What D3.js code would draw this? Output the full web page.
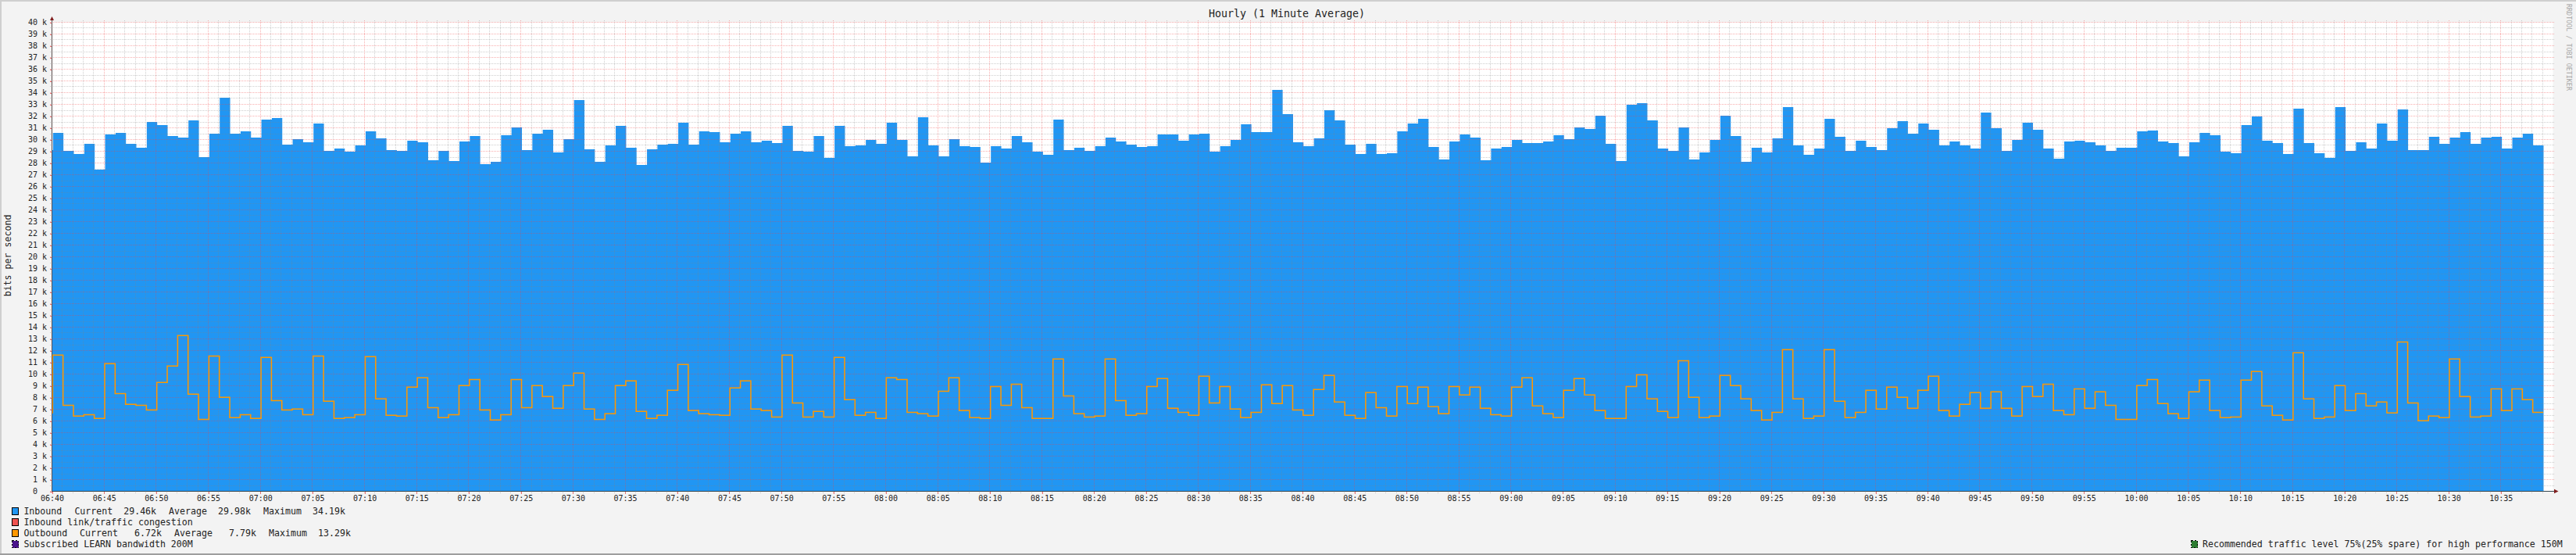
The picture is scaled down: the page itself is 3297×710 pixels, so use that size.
<!DOCTYPE html>
<html><head><meta charset="utf-8">
<script src="https://cdn.jsdelivr.net/npm/d3@7/dist/d3.min.js"></script>
<style>
html,body{margin:0;padding:0;background:#f3f3f3;overflow:hidden}
svg{display:block}
text{font-family:"DejaVu Sans Mono",monospace;fill:#222;white-space:pre}
</style></head><body>
<svg id="c" width="3297" height="710"></svg>
<script>
const chartTitle = "Hourly (1 Minute Average)";
const yTitle = "bits per second";
const watermark = "RRDTOOL / TOBI OETIKER";
const inbound = [29.1,
30.57,29.03,28.77,29.63,27.43,30.43,30.57,29.63,29.3,31.5,31.23,30.3,30.17,31.63,28.5,30.5,33.57,30.5,30.7,30.17,
31.7,31.83,29.57,30.03,29.77,31.37,29.03,29.23,28.97,29.5,30.7,30.1,29.1,29.03,29.9,29.77,28.23,29.03,28.17,29.83,
30.3,27.9,28.1,30.37,31.03,29.1,30.5,30.83,28.9,30.03,33.37,29.17,28.1,29.5,31.17,29.3,27.83,29.17,29.57,29.63,
31.43,29.57,30.7,30.63,29.77,30.5,30.7,29.77,29.9,29.7,31.17,29.03,28.97,30.3,28.43,31.17,29.43,29.5,29.97,29.63,
31.43,29.97,28.57,31.9,29.5,28.57,30.03,29.43,29.37,28.03,29.43,29.23,30.3,29.77,28.97,28.7,31.7,29.1,29.3,29.03,
29.43,30.17,29.83,29.57,29.37,29.43,30.43,30.43,29.9,30.43,30.5,28.97,29.43,29.97,31.3,30.63,30.63,34.23,32.17,29.77,
29.43,30.1,32.5,31.63,29.57,28.77,29.63,28.77,28.83,30.7,31.37,31.77,29.37,28.3,29.83,30.43,30.17,28.23,29.23,29.37,
29.97,29.7,29.7,29.83,30.37,30.03,31.03,30.9,32.03,29.63,28.17,32.97,33.1,31.63,29.23,29.03,31.03,28.3,28.9,29.97,
32.03,30.3,28.1,29.3,28.9,30.1,32.77,29.5,28.7,29.23,31.77,30.23,29.03,29.9,29.37,29.1,30.97,31.57,30.5,31.37,
30.83,29.5,29.83,29.5,29.23,32.3,30.97,29.03,29.97,31.43,30.83,29.23,28.37,29.83,29.9,29.77,29.5,29.03,29.3,29.3,
30.7,30.77,29.83,29.7,28.57,29.77,30.57,30.37,28.97,28.83,31.23,31.97,29.9,29.7,28.77,32.63,29.7,28.83,28.43,32.77,
29.03,29.77,29.23,31.37,29.9,32.57,29.1,29.1,30.23,29.63,30.17,30.63,29.63,30.17,30.23,29.23,30.17,30.5,29.5];
const outbound = [6.68,
11.61,7.34,6.41,6.54,6.21,10.88,8.34,7.41,7.34,6.94,9.28,10.68,13.28,8.28,6.14,11.54,8.01,6.28,6.54,6.21,
11.41,7.74,6.94,7.01,6.54,11.54,7.68,6.21,6.28,6.54,11.48,7.88,6.48,6.41,8.88,9.68,7.14,6.28,6.54,9.01,
9.54,6.94,6.08,6.54,9.54,7.14,9.01,8.08,7.08,9.01,10.08,7.01,6.14,6.61,9.01,9.41,6.81,6.21,6.48,8.61,
10.81,6.88,6.61,6.54,6.48,8.81,9.41,7.01,6.88,6.34,11.61,7.54,6.34,6.81,6.34,11.41,7.81,6.48,6.74,6.21,
9.68,9.54,6.74,6.61,6.41,8.54,9.68,6.88,6.28,6.21,8.94,7.34,9.14,7.14,6.21,6.21,11.28,8.14,6.61,6.34,
6.41,11.28,7.74,6.48,6.61,8.94,9.61,7.08,6.74,6.48,9.81,7.54,8.94,7.01,6.28,6.74,9.08,7.48,9.01,6.94,
6.48,8.68,9.88,7.61,6.48,6.21,8.41,7.14,6.41,8.94,7.48,8.88,7.21,6.61,8.94,8.21,8.88,7.08,6.54,6.41,
8.88,9.68,7.28,6.61,6.28,8.61,9.61,8.21,6.88,6.21,6.21,8.94,9.94,7.88,6.81,6.28,11.14,8.01,6.28,6.41,
9.88,9.01,7.88,6.88,6.08,6.74,12.08,7.88,6.21,6.41,12.08,7.68,6.28,6.74,8.61,7.01,8.88,8.01,7.08,8.61,
9.81,6.88,6.41,7.41,8.41,7.08,8.48,7.08,6.41,8.94,8.08,9.14,6.88,6.54,8.74,7.08,8.48,7.34,6.14,6.14,
9.01,9.54,7.48,6.61,6.21,8.48,9.48,6.88,6.28,6.34,9.48,10.21,7.28,6.48,6.08,11.81,7.88,6.21,6.34,9.01,
6.88,8.34,7.28,7.61,6.68,12.74,7.54,6.01,6.41,6.28,11.28,8.08,6.34,6.41,8.74,6.88,8.74,7.81,6.74];
const xTickLabels = ["06:40","06:45","06:50","06:55","07:00","07:05","07:10","07:15","07:20","07:25","07:30","07:35",
"07:40","07:45","07:50","07:55","08:00","08:05","08:10","08:15","08:20","08:25","08:30","08:35",
"08:40","08:45","08:50","08:55","09:00","09:05","09:10","09:15","09:20","09:25","09:30","09:35",
"09:40","09:45","09:50","09:55","10:00","10:05","10:10","10:15","10:20","10:25","10:30","10:35"];
const legendNames = ["Inbound","Inbound link/traffic congestion","Outbound","Subscribed LEARN bandwidth 200M"];
const legendColors = ["#2196F3","#EF5350","#FF9800","#4A148C"];
const inboundStats = ["Current","29.46k","Average","29.98k","Maximum","34.19k"];
const outboundStats = ["Current","6.72k","Average","7.79k","Maximum","13.29k"];
const recommended = "Recommended traffic level 75%(25% spare) for high performance 150M";
const recommendedColor = "#2E7D32";
const yMax = 40, totalMinutes = 240, firstStep = 0.1;

const svg = d3.select("#c");
const W = 3297, H = 710;
const x = d3.scaleLinear().domain([0,totalMinutes]).range([66.5,3267.5]);
const y = d3.scaleLinear().domain([0,yMax]).range([628.5,28.5]);

// frame
svg.append("rect").attr("width",W).attr("height",H).attr("fill","#f3f3f3");
svg.append("rect").attr("width",W).attr("height",2).attr("fill","#cfcfcf");
svg.append("rect").attr("width",2).attr("height",H).attr("fill","#cfcfcf");
svg.append("rect").attr("y",H-2).attr("width",W).attr("height",2).attr("fill","#9e9e9e");
// plot background
svg.append("rect").attr("x",x(0)).attr("y",y(yMax)).attr("width",x(totalMinutes)-x(0)).attr("height",y(0)-y(yMax)).attr("fill","#fff");

const endMinute = i => i===0 ? firstStep : firstStep+i;
const pts = arr => [[0,arr[0]]].concat(arr.map((v,i)=>[endMinute(i),v]));

// inbound area
svg.append("path").attr("d",d3.area().curve(d3.curveStepBefore)
  .x(d=>x(d[0])).y0(y(0)).y1(d=>y(d[1]))(pts(inbound))).attr("fill",legendColors[0]);

// grid
const grid = svg.append("g").attr("shape-rendering","crispEdges").attr("fill","none");
const hv = d3.range(0,yMax+0.25,0.5), vv = d3.range(0,totalMinutes+1);
const minorC="#808080", majorC="#f04040";
grid.selectAll(".hm").data(hv.filter(d=>d%1!==0)).join("line")
  .attr("x1",64).attr("x2",3268.5).attr("y1",d=>Math.round(y(d)-.5)+.5).attr("y2",d=>Math.round(y(d)-.5)+.5)
  .attr("stroke",minorC).attr("stroke-opacity",.38).attr("stroke-dasharray","1,1");
grid.selectAll(".vm").data(vv.filter(d=>d%5!==0)).join("line")
  .attr("y1",26).attr("y2",631).attr("x1",d=>Math.round(x(d)-.5)+.5).attr("x2",d=>Math.round(x(d)-.5)+.5)
  .attr("stroke",minorC).attr("stroke-opacity",.38).attr("stroke-dasharray","1,1");
grid.selectAll(".vM").data(vv.filter(d=>d%5===0&&d<totalMinutes)).join("line")
  .attr("y1",26).attr("y2",631).attr("x1",d=>Math.round(x(d)-.5)+.5).attr("x2",d=>Math.round(x(d)-.5)+.5)
  .attr("stroke",majorC).attr("stroke-opacity",.42).attr("stroke-dasharray","1,1");
grid.selectAll(".hM").data(hv.filter(d=>d%1===0)).join("line")
  .attr("x1",64).attr("x2",3268.5).attr("y1",d=>y(d)).attr("y2",d=>y(d))
  .attr("stroke",majorC).attr("stroke-opacity",.42).attr("stroke-dasharray","1,1");

// outbound line
svg.append("path").attr("d",d3.line().curve(d3.curveStepBefore)
  .x(d=>x(d[0])-.5).y(d=>y(d[1]))(pts(outbound)))
  .attr("fill","none").attr("stroke",legendColors[2]).attr("stroke-width",1.5);

// axes
const yAxis = d3.axisLeft(y).tickValues(d3.range(0,yMax+1)).tickSize(3).tickPadding(3)
  .tickFormat(d=>d===0?"0  ":d+" k");
const gy = svg.append("g").attr("transform","translate(66.5,0)").call(yAxis);
const xMajor = xTickLabels.map((_,i)=>i*5);
const xAxis = d3.axisBottom(x).tickValues(xMajor).tickSize(3).tickPadding(3).tickFormat((d,i)=>xTickLabels[i]);
const gx = svg.append("g").attr("transform","translate(0,628.5)").call(xAxis);
[gy,gx].forEach(g=>{
  g.selectAll(".domain").remove();
  g.selectAll("line").attr("stroke","#e57373").attr("shape-rendering","crispEdges");
  g.selectAll("text").attr("font-size",10).attr("font-family",'"DejaVu Sans Mono",monospace').attr("fill","#222");
});
gy.selectAll("text").attr("x",-6.5);
gx.selectAll("text").attr("y",5.5).attr("dy","0.71em");
svg.append("line").attr("x1",x(0)).attr("x2",x(0)).attr("y1",26).attr("y2",y(0)).attr("stroke","#5c4f4f").attr("shape-rendering","crispEdges");
svg.append("line").attr("x1",x(0)).attr("x2",3270).attr("y1",y(0)).attr("y2",y(0)).attr("stroke","#37474f").attr("shape-rendering","crispEdges");
svg.append("path").attr("d",d3.line()([[x(0)-2.5,26],[x(0),21],[x(0)+2.5,26]])+"Z").attr("fill","#7f1d1d");
svg.append("path").attr("d",d3.line()([[3269,625.7],[3274.5,628.5],[3269,631.3]])+"Z").attr("fill","#7f1d1d");

// titles
svg.append("text").attr("x",1647).attr("y",21.5).attr("text-anchor","middle").attr("font-size",13.3).text(chartTitle);
svg.append("text").attr("transform","translate(14,327) rotate(-90)").attr("text-anchor","middle").attr("font-size",11.6).text(yTitle);
svg.append("text").attr("transform","translate(3284.5,5) rotate(90)").attr("font-size",8.4).style("fill","#a8a8a8").text(watermark);

// legend
const rowY = [654,668,682,696], fs = 11.6;
const posIn = [95.4,158.2,216,279,337,400], posOut = [102,172,223,293,344,407];
legendNames.forEach((name,i)=>{
  const dashed = i===3;
  svg.append("rect").attr("x",15.5).attr("y",rowY[i]-4.5).attr("width",8).attr("height",9)
    .attr("fill",legendColors[i]).attr("stroke","#000").attr("stroke-dasharray",dashed?"2,2":null).attr("shape-rendering","crispEdges");
  svg.append("text").attr("x",30.4).attr("y",rowY[i]+4).attr("font-size",fs).text(name);
});
[[inboundStats,posIn,0],[outboundStats,posOut,2]].forEach(([st,pos,r])=>{
  st.forEach((s,k)=>svg.append("text").attr("x",pos[k]).attr("y",rowY[r]+4).attr("font-size",fs).text(s));
});
svg.append("rect").attr("x",2804.5).attr("y",rowY[3]-4.5).attr("width",8).attr("height",9)
  .attr("fill",recommendedColor).attr("stroke","#000").attr("stroke-dasharray","2,2").attr("shape-rendering","crispEdges");
svg.append("text").attr("x",2819).attr("y",rowY[3]+4).attr("font-size",fs).text(recommended);
</script></body></html>
